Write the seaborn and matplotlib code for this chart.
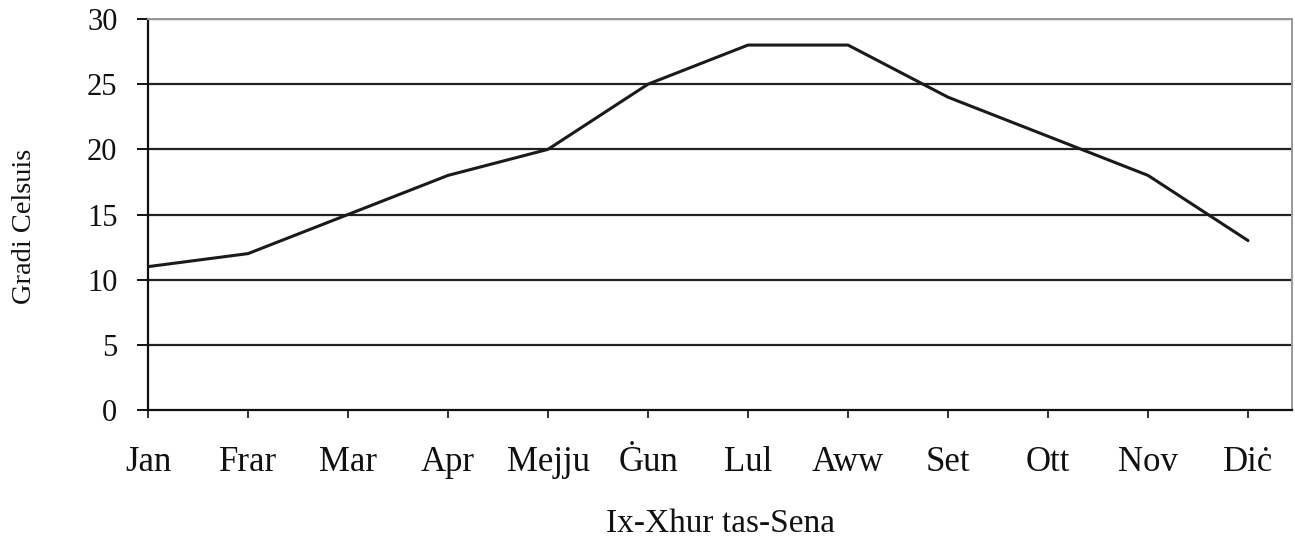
import matplotlib
matplotlib.use("Agg")
import matplotlib.pyplot as plt
import seaborn as sns
import pandas as pd

months = ["Jan", "Frar", "Mar", "Apr", "Mejju", "Ġun", "Lul", "Aww", "Set", "Ott", "Nov", "Diċ"]
temps = [11, 12, 15, 18, 20, 25, 28, 28, 24, 21, 18, 13]
yticks = [0, 5, 10, 15, 20, 25, 30]

sns.set_theme(style="white")
plt.rcParams["font.family"] = ["Liberation Serif", "DejaVu Serif"]

df = pd.DataFrame({"month": months, "temp": temps})

fig = plt.figure(figsize=(12.95, 5.41), dpi=100)
ax = fig.add_axes([0.1143, 0.2421, 0.9977 - 0.1143, 0.9649 - 0.2421])

for y in yticks[1:]:
    ax.axhline(y, color="#222222", lw=1.6, zorder=1)

sns.lineplot(data=df, x="month", y="temp", sort=False, color="#1a1a1a", lw=2.2, ax=ax, zorder=3)

ax.set_xlim(0, 11.44)
ax.set_ylim(0, 30)
ax.set_yticks(yticks)
ax.set_xticks(range(len(months)))
ax.set_xticklabels(months)

for side in ["top", "right"]:
    ax.spines[side].set_color("#999999")
    ax.spines[side].set_linewidth(1.4)
for side in ["left", "bottom"]:
    ax.spines[side].set_color("#111111")
    ax.spines[side].set_linewidth(1.6)

ax.tick_params(axis="x", bottom=True, length=6, width=1.2, color="#111111", pad=20, labelsize=25, labelcolor="#111111")
ax.tick_params(axis="y", left=True, length=8, width=1.4, color="#111111", pad=14, labelsize=22, labelcolor="#111111")

ax.set_xlabel("Ix-Xhur tas-Sena", fontsize=24, color="#111111")
ax.set_ylabel("Gradi Celsuis", fontsize=20.5, color="#111111")
ax.xaxis.set_label_coords(0.5, -0.252)
ax.yaxis.set_label_coords(-0.097, 0.47)

fig.savefig("out.png", dpi=100)
